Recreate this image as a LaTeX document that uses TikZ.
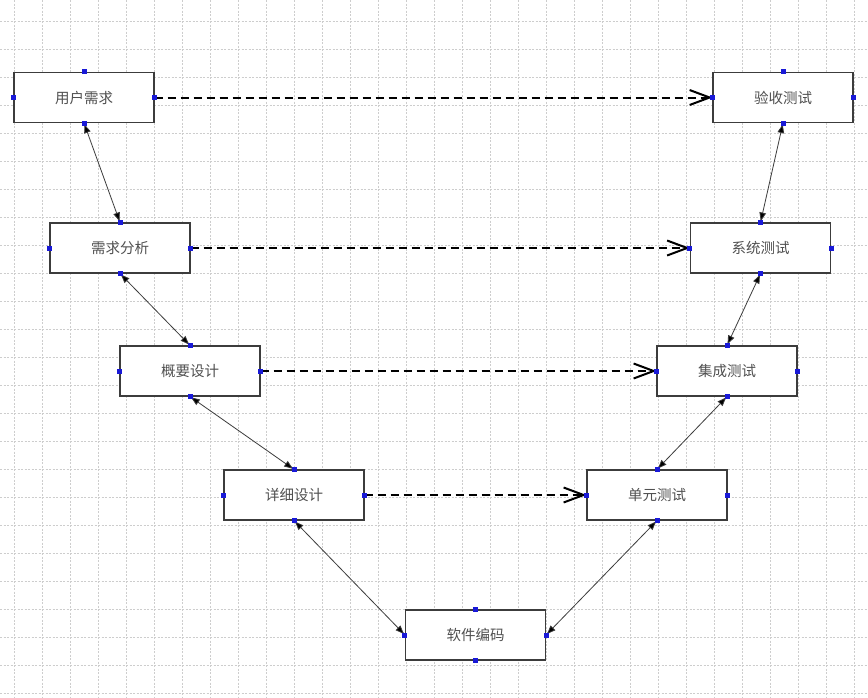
\documentclass[tikz,border=0pt]{standalone}
\usepackage{fontspec}
\newfontfamily\cjk{Noto Sans CJK SC}
\usetikzlibrary{arrows.meta,positioning}
\definecolor{BoxLine}{RGB}{60,60,60}
\definecolor{TextGray}{RGB}{80,80,80}
\definecolor{PortBlue}{RGB}{25,25,215}
\definecolor{GridGray}{RGB}{205,205,205}

\begin{document}
\begin{tikzpicture}[x=1pt, y=-1pt,
	stage/.style={draw=BoxLine, line width=1.1pt, fill=white, minimum width=140pt, minimum height=50pt, inner sep=0pt, text=TextGray, font=\cjk\fontsize{14.5}{16}\selectfont},
	link/.style={draw=BoxLine, line width=0.8pt, {Latex[length=10pt,width=7pt,fill=black]}-{Latex[length=10pt,width=7pt,fill=black]}},
	trace/.style={draw=black, line width=2pt, dash pattern=on 8pt off 5pt, -{Straight Barb[length=20pt,width=15pt,line width=2pt]}},
	gridline/.style={GridGray, line width=0.6pt, dash pattern=on 2pt off 1.5pt}]
	\useasboundingbox[fill=white] (0,0) rectangle (868,697);
	
	% 网格
	\foreach \i in {0,...,30}
		\draw[gridline] ({14+28*\i},0) -- ({14+28*\i},697);
	\foreach \j in {0,...,24}
		\draw[gridline] (0,{21+28*\j}) -- (868,{21+28*\j});
	
	% 左侧：开发阶段
	\node[stage] (req)    at (84,97.5)  {用户需求};
	\node[stage] (ana)    at (120,248)  {需求分析};
	\node[stage] (outline) at (190,371) {概要设计};
	\node[stage] (detail) at (294,495)  {详细设计};
	\node[stage] (code)   at (475.5,635) {软件编码};
	% 右侧：测试阶段
	\node[stage] (accept) at (783,97.5) {验收测试};
	\node[stage] (system) at (760.5,248) {系统测试};
	\node[stage] (integ)  at (727,371)  {集成测试};
	\node[stage] (unit)   at (657,495)  {单元测试};
	
	% V 形连线
	\draw[link] (req.south) -- (ana.north);
	\draw[link] (ana.south) -- (outline.north);
	\draw[link] (outline.south) -- (detail.north);
	\draw[link] (detail.south) -- (code.west);
	\draw[link] (code.east) -- (unit.south);
	\draw[link] (unit.north) -- (integ.south);
	\draw[link] (integ.north) -- (system.south);
	\draw[link] (system.north) -- (accept.south);
	
	% 对应关系
	\draw[trace] (req.east) -- (accept.west);
	\draw[trace] (ana.east) -- (system.west);
	\draw[trace] (outline.east) -- (integ.west);
	\draw[trace] (detail.east) -- (unit.west);
	
	% 连接点
	\foreach \n in {req,ana,outline,detail,code,accept,system,integ,unit}
		\foreach \a in {north,south,east,west}
			\fill[PortBlue] ([shift={(-2.5pt,-2.5pt)}]\n.\a) rectangle ++(5pt,5pt);
\end{tikzpicture}
\end{document}
